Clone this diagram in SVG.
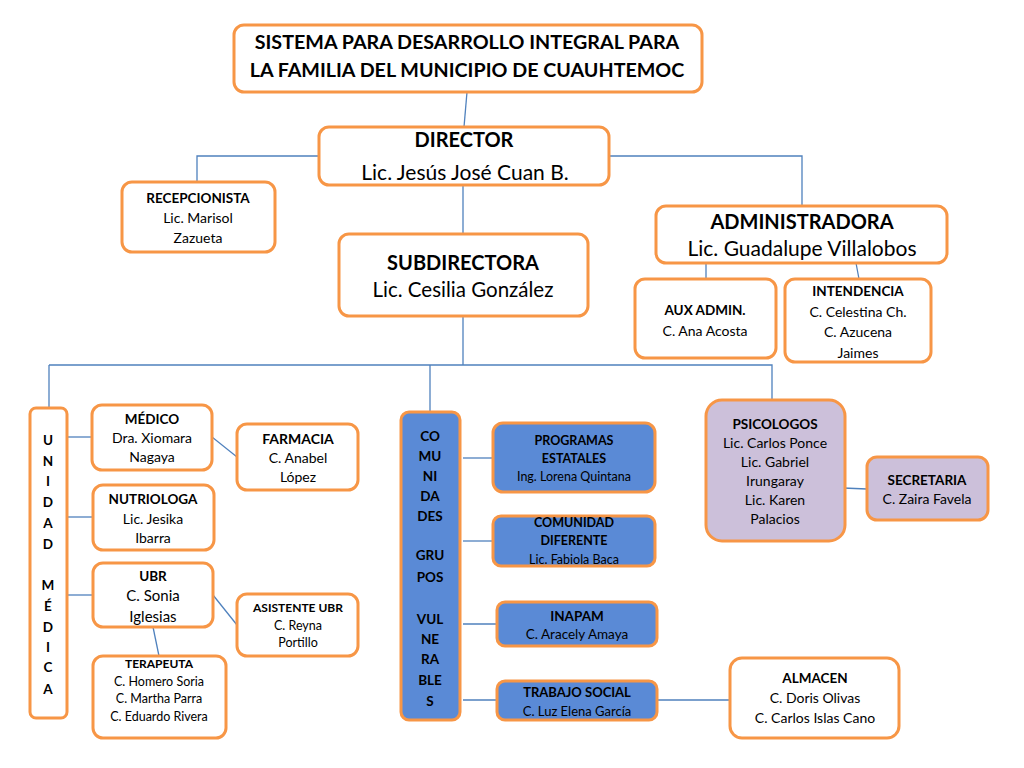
<svg xmlns="http://www.w3.org/2000/svg" width="1024" height="768" viewBox="0 0 1024 768">
<style>
.b{fill:#fff;stroke:#f79646;stroke-width:3}
.bl{fill:#5a8ad6;stroke:#f79646;stroke-width:3}
.lv{fill:#ccc0da;stroke:#f79646;stroke-width:3}
.c{fill:none;stroke:#4f81bd;stroke-width:1.3}
text{font-family:Lato,"Liberation Sans",sans-serif;fill:#000;text-anchor:middle}
.h{font-weight:bold}
</style>
<rect width="1024" height="768" fill="#fff"/>
<g id="connectors">
<path class="c" d="M467,92 L464,127"/>
<path class="c" d="M319,156 H197 V183"/>
<path class="c" d="M609,156 H802 V207"/>
<path class="c" d="M463,185 V235"/>
<path class="c" d="M706,263 V279"/>
<path class="c" d="M856,263 L859,279"/>
<path class="c" d="M463,316 V365"/>
<path class="c" d="M49,365 H772 V400"/>
<path class="c" d="M49,365 V408"/>
<path class="c" d="M430,365 V412"/>
<path class="c" d="M67,437 H92"/>
<path class="c" d="M67,517 H93"/>
<path class="c" d="M67,595 H93"/>
<path class="c" d="M153,627 L159,656"/>
<path class="c" d="M212,437 L237,457"/>
<path class="c" d="M213,595 L237,625"/>
<path class="c" d="M463,458 H493"/>
<path class="c" d="M463,541 H493"/>
<path class="c" d="M463,624 H497"/>
<path class="c" d="M463,700 H497"/>
<path class="c" d="M657,700 H730"/>
<path class="c" d="M843,488 L867,489"/>
</g>
<g id="titulo"><rect class="b" x="234" y="25" width="468" height="67" rx="10"/>
<text class="h" x="467" y="49" font-size="19.7">SISTEMA PARA DESARROLLO INTEGRAL PARA</text>
<text class="h" x="467" y="77" font-size="19.7">LA FAMILIA DEL MUNICIPIO DE CUAUHTEMOC</text></g>
<g id="director"><rect class="b" x="319" y="127" width="290" height="58" rx="10"/>
<text class="h" x="464" y="147" font-size="20">DIRECTOR</text>
<text x="465" y="180" font-size="21">Lic. Jesús José Cuan B.</text></g>
<g id="recepcionista"><rect class="b" x="122" y="182" width="153" height="70" rx="10"/>
<text class="h" x="198" y="203" font-size="13.5">RECEPCIONISTA</text>
<text x="198" y="223" font-size="14">Lic. Marisol</text>
<text x="198" y="243" font-size="14">Zazueta</text></g>
<g id="administradora"><rect class="b" x="656" y="206" width="291" height="57" rx="10"/>
<text class="h" x="802" y="229" font-size="20">ADMINISTRADORA</text>
<text x="802" y="256" font-size="21">Lic. Guadalupe Villalobos</text></g>
<g id="subdirectora"><rect class="b" x="339" y="234" width="249" height="82" rx="10"/>
<text class="h" x="463" y="270" font-size="20">SUBDIRECTORA</text>
<text x="463" y="297" font-size="20.5">Lic. Cesilia González</text></g>
<g id="auxadmin"><rect class="b" x="635" y="279" width="141" height="79" rx="10"/>
<text class="h" x="705" y="315" font-size="13.5">AUX ADMIN.</text>
<text x="705" y="336" font-size="14">C. Ana Acosta</text></g>
<g id="intendencia"><rect class="b" x="785" y="279" width="146" height="83" rx="10"/>
<text class="h" x="858" y="296" font-size="13.5">INTENDENCIA</text>
<text x="858" y="317" font-size="14">C. Celestina Ch.</text>
<text x="858" y="337" font-size="14">C. Azucena</text>
<text x="858" y="358" font-size="14">Jaimes</text></g>
<g id="unidadmedica"><rect class="b" x="30" y="408" width="37" height="310" rx="6"/>
<g class="h" font-size="13.5" font-weight="bold">
<text x="48" y="445">U</text><text x="48" y="466">N</text><text x="48" y="486">I</text><text x="48" y="507">D</text><text x="48" y="528">A</text><text x="48" y="549">D</text>
<text x="48" y="590">M</text><text x="48" y="611">É</text><text x="48" y="632">D</text><text x="48" y="652">I</text><text x="48" y="672">C</text><text x="48" y="694">A</text></g></g>
<g id="medico"><rect class="b" x="92" y="405" width="120" height="65" rx="10"/>
<text class="h" x="152" y="424" font-size="13.5">MÉDICO</text>
<text x="152" y="443" font-size="14">Dra. Xiomara</text>
<text x="152" y="462" font-size="14">Nagaya</text></g>
<g id="nutriologa"><rect class="b" x="93" y="485" width="121" height="65" rx="10"/>
<text class="h" x="153" y="504" font-size="13.5">NUTRIOLOGA</text>
<text x="153" y="524" font-size="14">Lic. Jesika</text>
<text x="153" y="543" font-size="14">Ibarra</text></g>
<g id="ubr"><rect class="b" x="93" y="563" width="120" height="64" rx="10"/>
<text class="h" x="153" y="581" font-size="13.5">UBR</text>
<text x="153" y="601" font-size="15">C. Sonia</text>
<text x="153" y="622" font-size="15">Iglesias</text></g>
<g id="terapeuta"><rect class="b" x="93" y="656" width="133" height="82" rx="10"/>
<text class="h" x="159" y="668" font-size="12">TERAPEUTA</text>
<text x="159" y="686" font-size="12.5">C. Homero Soria</text>
<text x="159" y="703" font-size="12.5">C. Martha Parra</text>
<text x="159" y="721" font-size="12.5">C. Eduardo Rivera</text></g>
<g id="farmacia"><rect class="b" x="237" y="424" width="121" height="66" rx="10"/>
<text class="h" x="298" y="444" font-size="14">FARMACIA</text>
<text x="298" y="463" font-size="14">C. Anabel</text>
<text x="298" y="482" font-size="14">López</text></g>
<g id="asistenteubr"><rect class="b" x="237" y="594" width="121" height="62" rx="10"/>
<text class="h" x="298" y="612" font-size="12">ASISTENTE UBR</text>
<text x="298" y="630" font-size="12.5">C. Reyna</text>
<text x="298" y="647" font-size="12.5">Portillo</text></g>
<g id="comunidades"><rect class="bl" x="401" y="412" width="59" height="308" rx="8"/>
<g font-size="13.5" font-weight="bold">
<text x="430" y="441">CO</text><text x="430" y="461">MU</text><text x="430" y="481">NI</text><text x="430" y="501">DA</text><text x="430" y="521">DES</text>
<text x="430" y="560">GRU</text><text x="430" y="582">POS</text>
<text x="430" y="624">VUL</text><text x="430" y="644">NE</text><text x="430" y="664">RA</text><text x="430" y="685">BLE</text><text x="430" y="706">S</text></g></g>
<g id="programas"><rect class="bl" x="493" y="423" width="162" height="69" rx="10"/>
<text class="h" x="574" y="445" font-size="12.5">PROGRAMAS</text>
<text class="h" x="574" y="463" font-size="12.5">ESTATALES</text>
<text x="574" y="481" font-size="12.5">Ing. Lorena Quintana</text></g>
<g id="comunidaddiferente"><rect class="bl" x="493" y="516" width="162" height="50" rx="8"/>
<text class="h" x="574" y="527" font-size="12.5">COMUNIDAD</text>
<text class="h" x="574" y="545" font-size="12.5">DIFERENTE</text>
<text x="574" y="564" font-size="12.5">Lic. Fabiola Baca</text></g>
<g id="inapam"><rect class="bl" x="497" y="602" width="160" height="44" rx="8"/>
<text class="h" x="577" y="621" font-size="13.5">INAPAM</text>
<text x="577" y="639" font-size="13.5">C. Aracely Amaya</text></g>
<g id="trabajosocial"><rect class="bl" x="497" y="681" width="160" height="39" rx="8"/>
<text class="h" x="577" y="697" font-size="13">TRABAJO SOCIAL</text>
<text x="577" y="716" font-size="13">C. Luz Elena García</text></g>
<g id="almacen"><rect class="b" x="730" y="658" width="169" height="80" rx="12"/>
<text class="h" x="815" y="683" font-size="13.5">ALMACEN</text>
<text x="815" y="703" font-size="14">C. Doris Olivas</text>
<text x="815" y="723" font-size="14">C. Carlos Islas Cano</text></g>
<g id="psicologos"><rect class="lv" x="706" y="400" width="139" height="141" rx="16"/>
<text class="h" x="775" y="429" font-size="13.5">PSICOLOGOS</text>
<text x="775" y="448" font-size="14">Lic. Carlos Ponce</text>
<text x="775" y="467" font-size="14">Lic. Gabriel</text>
<text x="775" y="486" font-size="14">Irungaray</text>
<text x="775" y="505" font-size="14">Lic. Karen</text>
<text x="775" y="524" font-size="14">Palacios</text></g>
<g id="secretaria"><rect class="lv" x="867" y="457" width="121" height="63" rx="10"/>
<text class="h" x="927" y="485" font-size="13.5">SECRETARIA</text>
<text x="927" y="504" font-size="14">C. Zaira Favela</text></g>
</svg>
